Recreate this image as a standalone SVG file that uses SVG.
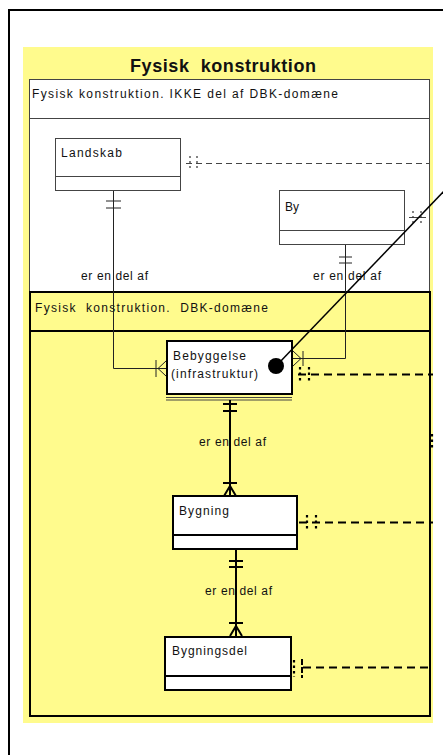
<svg xmlns="http://www.w3.org/2000/svg" width="443" height="755" viewBox="0 0 443 755">
<defs>
<style>
text{font-family:"Liberation Sans","DejaVu Sans",Arial,sans-serif;font-size:12px;fill:#111}
.title{font-size:18px;font-weight:bold}
.thin{fill:#fff;stroke:#444;stroke-width:1}
.thick{fill:#fff;stroke:#000;stroke-width:2}
.cl{fill:none;stroke:#222;stroke-width:1}
.ck{fill:none;stroke:#000;stroke-width:2}
.dt{fill:none;stroke:#444;stroke-width:1.2;stroke-dasharray:6 4}
.dk{fill:none;stroke:#000;stroke-width:2;stroke-dasharray:8 5}
.dot{fill:none;stroke:#333;stroke-width:1.2;stroke-dasharray:2 3}
.dotk{fill:none;stroke:#000;stroke-width:2.2;stroke-dasharray:2.5 3}
</style>
</defs>
<rect x="0" y="0" width="443" height="755" fill="#fff"/>
<rect x="9" y="10" width="450" height="760" fill="none" stroke="#000" stroke-width="2"/>
<g id="pkg-fysisk">
<rect x="23" y="47" width="410" height="676" fill="#fffb8d"/>
<text class="title" x="223" y="72" text-anchor="middle" textLength="186" lengthAdjust="spacing" xml:space="preserve">Fysisk  konstruktion</text>
</g>
<g id="pkg-ikke">
<rect x="29.5" y="79.5" width="400" height="212" class="thin"/>
<line x1="29.5" y1="118.5" x2="429.5" y2="118.5" stroke="#444"/>
<text x="32" y="98" textLength="306" lengthAdjust="spacing">Fysisk konstruktion. IKKE del af DBK-domæne</text>
</g>
<g id="pkg-dbk">
<rect x="30" y="292" width="400" height="424" fill="#fffb8d" stroke="#000" stroke-width="2"/>
<line x1="30" y1="331" x2="430" y2="331" stroke="#000" stroke-width="2"/>
<text x="35" y="312" textLength="233" lengthAdjust="spacing" xml:space="preserve">Fysisk  konstruktion.  DBK-domæne</text>
</g>
<g id="landskab">
<rect x="55.5" y="138.5" width="125" height="52" class="thin"/>
<line x1="55.5" y1="176.5" x2="180.5" y2="176.5" stroke="#444"/>
<text x="61" y="157" textLength="61" lengthAdjust="spacing">Landskab</text>
</g>
<g id="by">
<rect x="279.5" y="190.5" width="125" height="54" class="thin"/>
<line x1="279.5" y1="230.5" x2="404.5" y2="230.5" stroke="#444"/>
<text x="285" y="211" textLength="14" lengthAdjust="spacing">By</text>
</g>
<g id="bebyggelse">
<rect x="167" y="341" width="125" height="53" class="thick"/>
<line x1="166" y1="397.5" x2="292" y2="397.5" stroke="#444"/>
<line x1="166" y1="400" x2="292" y2="400" stroke="#444"/>
<text x="173" y="360" textLength="73" lengthAdjust="spacing">Bebyggelse</text>
<text x="171" y="378" textLength="87" lengthAdjust="spacing">(infrastruktur)</text>
</g>
<g id="bygning">
<rect x="173" y="496" width="124" height="53" class="thick"/>
<line x1="173" y1="535" x2="297" y2="535" stroke="#000" stroke-width="2"/>
<text x="179" y="515" textLength="50" lengthAdjust="spacing">Bygning</text>
</g>
<g id="bygningsdel">
<rect x="165" y="637" width="126" height="53" class="thick"/>
<line x1="165" y1="676" x2="291" y2="676" stroke="#000" stroke-width="2"/>
<text x="172" y="655" textLength="75" lengthAdjust="spacing">Bygningsdel</text>
</g>
<g id="connectors">
<line x1="186" y1="163.5" x2="429" y2="163.5" class="dt"/>
<line x1="190" y1="156" x2="190" y2="171" class="dot"/>
<line x1="197" y1="156" x2="197" y2="171" class="dot"/>
<line x1="409" y1="217.5" x2="426" y2="217.5" stroke="#444" stroke-width="1"/>
<line x1="413" y1="211" x2="413" y2="225" class="dot"/>
<line x1="421" y1="211" x2="421" y2="225" class="dot"/>
<polyline points="113.5,191 113.5,368.5 166,368.5" class="cl"/>
<line x1="106" y1="201" x2="121" y2="201" class="cl"/>
<line x1="106" y1="208" x2="121" y2="208" class="cl"/>
<line x1="156" y1="360" x2="156" y2="377" class="cl"/>
<polyline points="166,361 158,368.5 166,376" class="cl"/>
<text x="81" y="280" textLength="67" lengthAdjust="spacing">er en del af</text>
<polyline points="345.5,245 345.5,358.5 293,358.5" class="cl"/>
<line x1="339" y1="257" x2="352" y2="257" class="cl"/>
<line x1="339" y1="263" x2="352" y2="263" class="cl"/>
<line x1="303" y1="351" x2="303" y2="366" class="cl"/>
<polyline points="293,351 301,358.5 293,366" class="cl"/>
<text x="313" y="280" textLength="68" lengthAdjust="spacing">er en del af</text>
<line x1="298" y1="374.5" x2="433" y2="374.5" class="dk"/>
<line x1="300" y1="367" x2="300" y2="383" class="dotk"/>
<line x1="309" y1="367" x2="309" y2="383" class="dotk"/>
<line x1="432" y1="434" x2="432" y2="448" class="dotk"/>
<line x1="230" y1="400" x2="230" y2="496" class="ck"/>
<line x1="223" y1="404" x2="237" y2="404" class="ck"/>
<line x1="223" y1="411" x2="237" y2="411" class="ck"/>
<line x1="223" y1="483" x2="237" y2="483" class="ck"/>
<polyline points="224,496 230,486 236,496" class="ck"/>
<text x="199" y="446" textLength="67" lengthAdjust="spacing">er en del af</text>
<line x1="299" y1="522.5" x2="433" y2="522.5" class="dk"/>
<line x1="307" y1="515" x2="307" y2="531" class="dotk"/>
<line x1="316" y1="515" x2="316" y2="531" class="dotk"/>
<line x1="236" y1="549" x2="236" y2="637" class="ck"/>
<line x1="229" y1="561" x2="243" y2="561" class="ck"/>
<line x1="229" y1="567" x2="243" y2="567" class="ck"/>
<line x1="229" y1="623" x2="243" y2="623" class="ck"/>
<polyline points="230,636 236,626 242,636" class="ck"/>
<text x="205" y="595" textLength="67" lengthAdjust="spacing">er en del af</text>
<line x1="303" y1="667.5" x2="433" y2="667.5" class="dk"/>
<line x1="294" y1="660" x2="294" y2="677" class="dotk"/>
<line x1="302" y1="659" x2="302" y2="678" stroke="#000" stroke-width="2" stroke-dasharray="6 2"/>
<line x1="277" y1="365" x2="447" y2="188" stroke="#000" stroke-width="1.5"/>
<circle cx="276" cy="366" r="8" fill="#000"/>
</g>
</svg>
